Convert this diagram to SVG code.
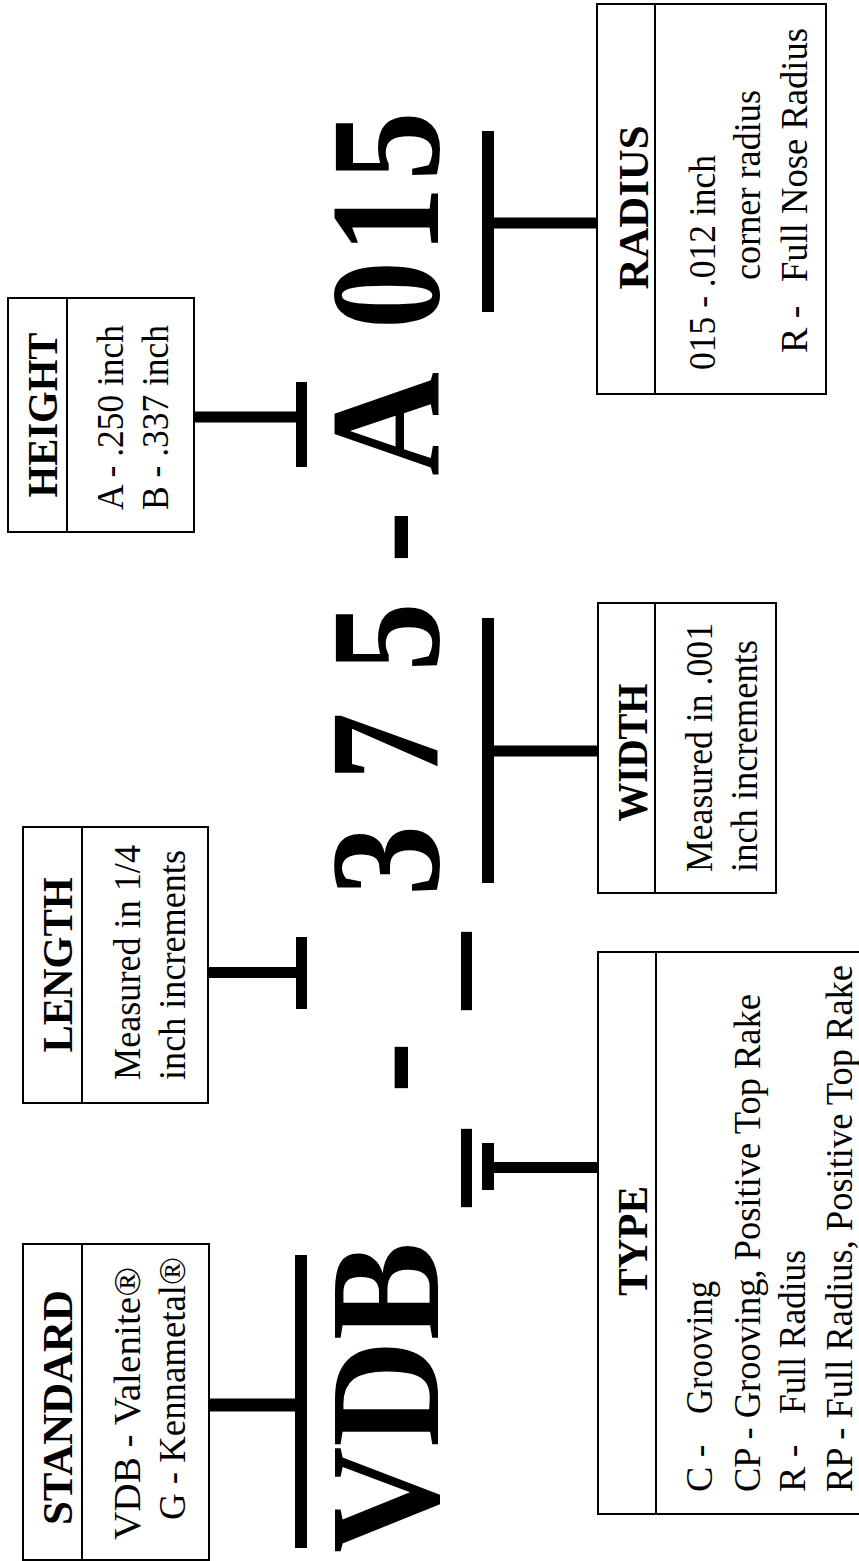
<svg xmlns="http://www.w3.org/2000/svg" width="859" height="1561" viewBox="0 0 859 1561">
<style>
.box{fill:#fff;stroke:#000;stroke-width:2}
.div{stroke:#000;stroke-width:2}
.hd{font-family:"Liberation Serif",serif;font-weight:bold;font-size:43px;fill:#000}
.bd{font-family:"Liberation Serif",serif;font-size:38px;fill:#000}
.big{font-family:"Liberation Serif",serif;font-weight:bold;font-size:157px;fill:#000;text-anchor:middle}
.con{stroke:#000;fill:none}
</style>
<rect width="859" height="1561" fill="#fff"/>

<g id="connectors">
  <line class="con" x1="209" y1="1405" x2="301" y2="1405" stroke-width="13"/>
  <line class="con" x1="301" y1="1255" x2="301" y2="1548" stroke-width="12"/>
  <line class="con" x1="208" y1="972.5" x2="301" y2="972.5" stroke-width="11"/>
  <line class="con" x1="301.5" y1="937" x2="301.5" y2="1009" stroke-width="11"/>
  <line class="con" x1="194" y1="417" x2="301" y2="417" stroke-width="11"/>
  <line class="con" x1="301.5" y1="382" x2="301.5" y2="467" stroke-width="11"/>
  <line class="con" x1="494" y1="1167.5" x2="598" y2="1167.5" stroke-width="11"/>
  <line class="con" x1="488" y1="1143" x2="488" y2="1190" stroke-width="12"/>
  <line class="con" x1="494" y1="751" x2="598" y2="751" stroke-width="11"/>
  <line class="con" x1="488" y1="618" x2="488" y2="883" stroke-width="12"/>
  <line class="con" x1="494" y1="223" x2="597" y2="223" stroke-width="11"/>
  <line class="con" x1="488" y1="131" x2="488" y2="312" stroke-width="12"/>
</g>

<g id="code" transform="rotate(-90)">
  <text class="big" x="-1397.5" y="438" textLength="311" lengthAdjust="spacingAndGlyphs">VDB</text>
  <text class="big" x="-1168" y="450" textLength="76" lengthAdjust="spacingAndGlyphs">_</text>
  <text class="big" x="-1067.5" y="438" textLength="53" lengthAdjust="spacingAndGlyphs">-</text>
  <text class="big" x="-971" y="450" textLength="76" lengthAdjust="spacingAndGlyphs">_</text>
  <text class="big" x="-860.5" y="438" textLength="71" lengthAdjust="spacingAndGlyphs">3</text>
  <text class="big" x="-746.5" y="438" textLength="68" lengthAdjust="spacingAndGlyphs">7</text>
  <text class="big" x="-637" y="438" textLength="69" lengthAdjust="spacingAndGlyphs">5</text>
  <text class="big" x="-537" y="438" textLength="54" lengthAdjust="spacingAndGlyphs">-</text>
  <text class="big" x="-424" y="438" textLength="104" lengthAdjust="spacingAndGlyphs">A</text>
  <text class="big" x="-295" y="438" textLength="68" lengthAdjust="spacingAndGlyphs">0</text>
  <text class="big" x="-220" y="438" textLength="67" lengthAdjust="spacingAndGlyphs">1</text>
  <text class="big" x="-146" y="438" textLength="69" lengthAdjust="spacingAndGlyphs">5</text>
</g>

<g id="standard">
  <rect class="box" x="23" y="1244" width="186" height="316"/>
  <line class="div" x1="82" y1="1244" x2="82" y2="1560"/>
  <g transform="rotate(-90)">
    <text class="hd" x="-1407.5" y="72" text-anchor="middle" textLength="235" lengthAdjust="spacingAndGlyphs">STANDARD</text>
    <text class="bd" x="-1540" y="140" textLength="273" lengthAdjust="spacingAndGlyphs">VDB - Valenite®</text>
    <text class="bd" x="-1520" y="185" textLength="263" lengthAdjust="spacingAndGlyphs">G - Kennametal®</text>
  </g>
</g>

<g id="length">
  <rect class="box" x="23" y="827" width="185" height="276"/>
  <line class="div" x1="82" y1="827" x2="82" y2="1103"/>
  <g transform="rotate(-90)">
    <text class="hd" x="-965" y="72" text-anchor="middle" textLength="175" lengthAdjust="spacingAndGlyphs">LENGTH</text>
    <text class="bd" x="-1080" y="140" textLength="235" lengthAdjust="spacingAndGlyphs">Measured in 1/4</text>
    <text class="bd" x="-1080" y="185" textLength="230" lengthAdjust="spacingAndGlyphs">inch increments</text>
  </g>
</g>

<g id="height">
  <rect class="box" x="8" y="298" width="186" height="234"/>
  <line class="div" x1="67" y1="298" x2="67" y2="532"/>
  <g transform="rotate(-90)">
    <text class="hd" x="-415" y="57" text-anchor="middle" textLength="165" lengthAdjust="spacingAndGlyphs">HEIGHT</text>
    <text class="bd" x="-510" y="123" textLength="185" lengthAdjust="spacingAndGlyphs">A - .250 inch</text>
    <text class="bd" x="-510" y="168" textLength="185" lengthAdjust="spacingAndGlyphs">B - .337 inch</text>
  </g>
</g>

<g id="type">
  <rect class="box" x="598" y="952" width="290" height="562"/>
  <line class="div" x1="656" y1="952" x2="656" y2="1514"/>
  <g transform="rotate(-90)">
    <text class="hd" x="-1241" y="647" text-anchor="middle" textLength="110" lengthAdjust="spacingAndGlyphs">TYPE</text>
    <text class="bd" x="-1492" y="712">C -</text>
    <text class="bd" x="-1414" y="712" textLength="133" lengthAdjust="spacingAndGlyphs">Grooving</text>
    <text class="bd" x="-1492" y="760" textLength="498" lengthAdjust="spacingAndGlyphs">CP - Grooving, Positive Top Rake</text>
    <text class="bd" x="-1492" y="805">R -</text>
    <text class="bd" x="-1414" y="805" textLength="164" lengthAdjust="spacingAndGlyphs">Full Radius</text>
    <text class="bd" x="-1492" y="852" textLength="527" lengthAdjust="spacingAndGlyphs">RP - Full Radius, Positive Top Rake</text>
  </g>
</g>

<g id="width">
  <rect class="box" x="598" y="603" width="178" height="290"/>
  <line class="div" x1="655" y1="603" x2="655" y2="893"/>
  <g transform="rotate(-90)">
    <text class="hd" x="-752.5" y="647" text-anchor="middle" textLength="138" lengthAdjust="spacingAndGlyphs">WIDTH</text>
    <text class="bd" x="-872" y="712" textLength="249" lengthAdjust="spacingAndGlyphs">Measured in .001</text>
    <text class="bd" x="-872" y="757" textLength="232" lengthAdjust="spacingAndGlyphs">inch increments</text>
  </g>
</g>

<g id="radius">
  <rect class="box" x="597" y="4" width="229" height="390"/>
  <line class="div" x1="655" y1="4" x2="655" y2="394"/>
  <g transform="rotate(-90)">
    <text class="hd" x="-207.5" y="648" text-anchor="middle" textLength="164" lengthAdjust="spacingAndGlyphs">RADIUS</text>
    <text class="bd" x="-370" y="715" textLength="215" lengthAdjust="spacingAndGlyphs">015 - .012 inch</text>
    <text class="bd" x="-280" y="760" textLength="190" lengthAdjust="spacingAndGlyphs">corner radius</text>
    <text class="bd" x="-353" y="807">R -</text>
    <text class="bd" x="-282" y="807" textLength="254" lengthAdjust="spacingAndGlyphs">Full Nose Radius</text>
  </g>
</g>
</svg>
